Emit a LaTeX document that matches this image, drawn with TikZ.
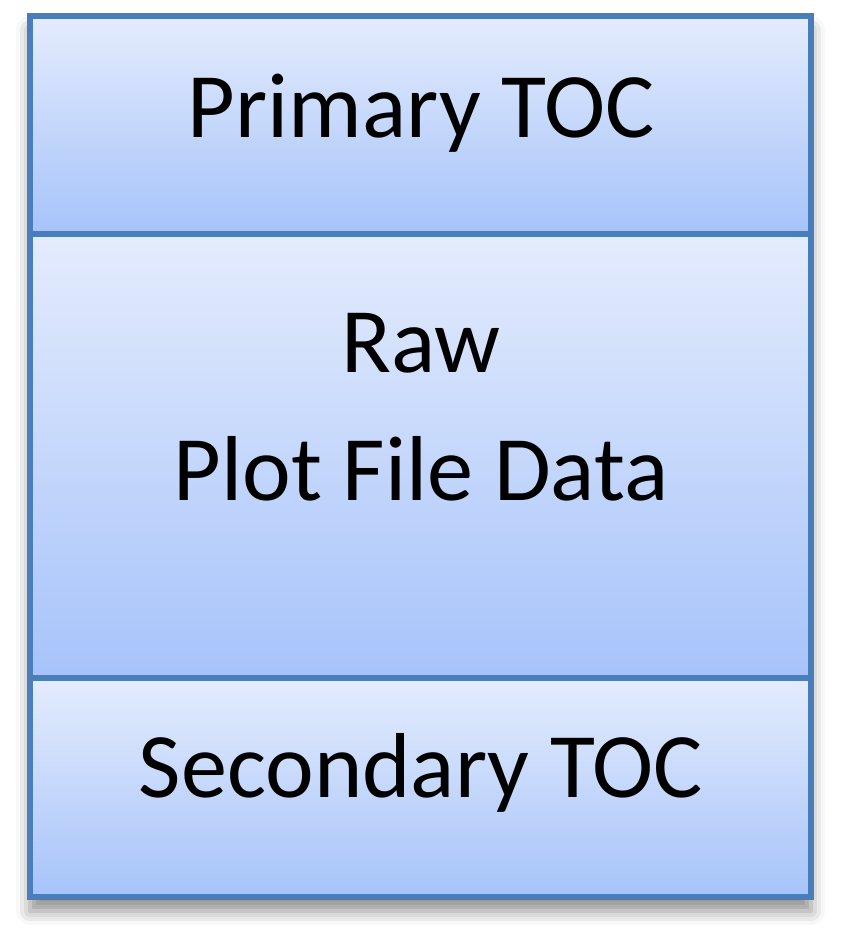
\documentclass[tikz,border=0pt]{standalone}
\usepackage{fontspec}
\setmainfont{Carlito}
\usetikzlibrary{shadows.blur}
\definecolor{tocline}{HTML}{4A7EBB}
\definecolor{toctop}{HTML}{E4ECFD}
\definecolor{tocbot}{HTML}{A6C3FA}
\tikzset{
  layer/.style={draw=tocline, line width=3.4pt, top color=toctop, bottom color=tocbot,
    minimum width=15.62cm, inner sep=0pt, outer sep=0pt},
  label/.style={anchor=base, inner sep=0pt, font=\fontsize{52.5}{63}\selectfont}
}
\begin{document}
\begin{tikzpicture}[x=0.02cm, y=-0.02cm]
  \useasboundingbox (0,0) rectangle (847,941);
  % shadow behind the whole stack
  \node (frame) at (420.5,456.5) [fill=white, minimum width=15.62cm, minimum height=17.62cm,
    blur shadow={shadow xshift=0pt, shadow yshift=-8pt, shadow blur radius=8pt, shadow opacity=45}] {};
  \node (primary) at (420.5,125) [layer, minimum height=4.36cm] {};
  \node (raw) at (420.5,456) [layer, minimum height=8.88cm] {};
  \node (secondary) at (420.5,787.5) [layer, minimum height=4.38cm] {};
  \node (ptext) at (421,137) [label] {Primary TOC};
  \node (rtext1) at (421,372) [label] {Raw};
  \node (rtext2) at (421,500) [label] {Plot File Data};
  \node (stext) at (421,797) [label] {Secondary TOC};
\end{tikzpicture}
\end{document}
